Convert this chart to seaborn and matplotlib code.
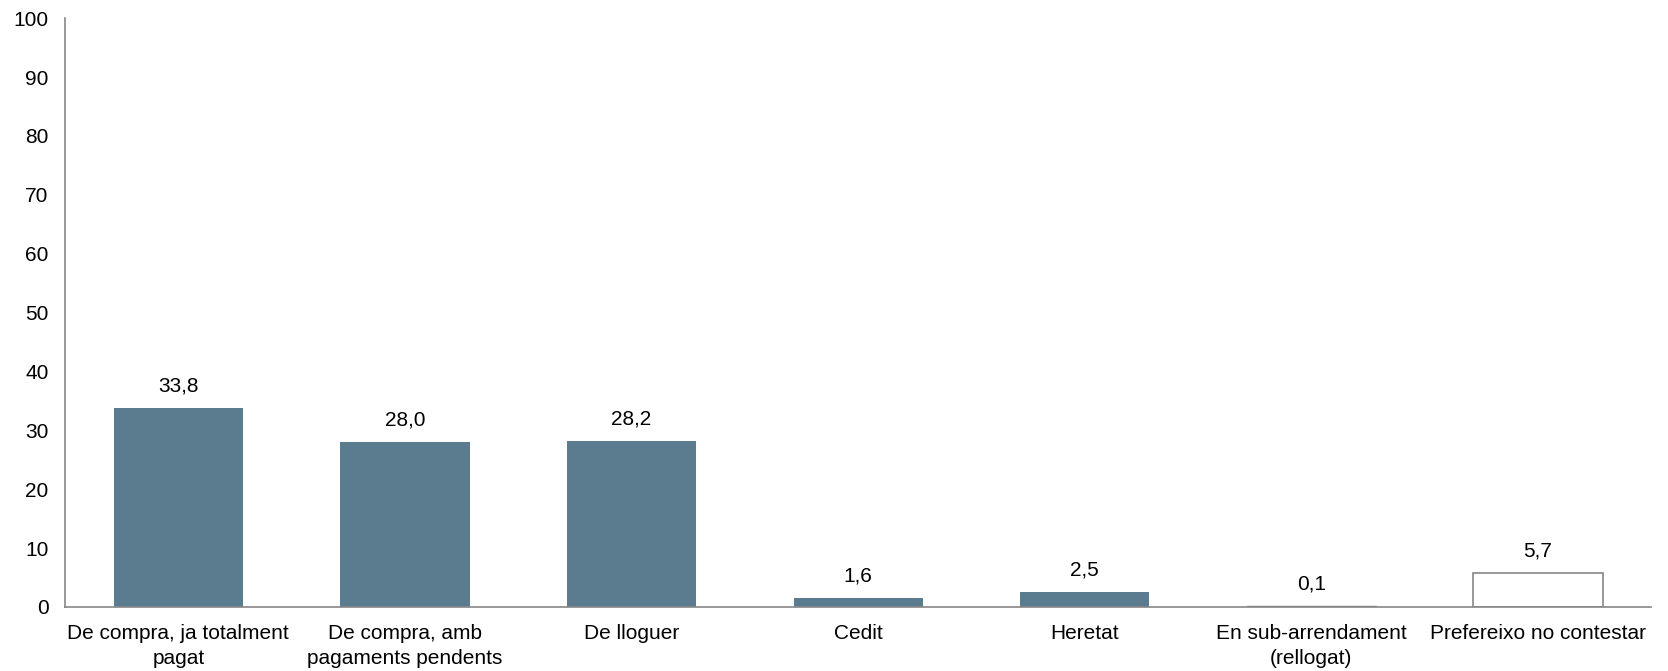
import matplotlib
matplotlib.use("Agg")
import matplotlib.pyplot as plt
import seaborn as sns
import numpy as np
import pandas as pd

categories = ["De compra, ja totalment\npagat", "De compra, amb\npagaments pendents", "De lloguer",
              "Cedit", "Heretat", "En sub-arrendament\n(rellogat)", "Prefereixo no contestar"]
values = [33.8, 28.0, 28.2, 1.6, 2.5, 0.1, 5.7]
labels = ["33,8", "28,0", "28,2", "1,6", "2,5", "0,1", "5,7"]
yticks = [0, 10, 20, 30, 40, 50, 60, 70, 80, 90, 100]

sns.set_theme(style="white")
plt.rcParams['font.family'] = ['Liberation Sans', 'DejaVu Sans']

bar_color = "#5B7B8E"
axis_color = "#868686"
fs = 15

fig = plt.figure(figsize=(16.68, 6.71), dpi=100)
ax = fig.add_axes([0.039, 0.0954, 0.951, 0.8776])

df = pd.DataFrame({"cat": categories, "val": values})
sns.barplot(data=df, x="cat", y="val", color=bar_color, saturation=1, width=0.57, ax=ax)

for i, p in enumerate(ax.patches):
    if i == len(values) - 1:
        p.set_facecolor("white")
        p.set_edgecolor(axis_color)
        p.set_linewidth(1.2)
    elif i == 5:
        p.set_edgecolor("#7F7F7F")
        p.set_linewidth(1.0)
    else:
        p.set_edgecolor("none")

for i, (v, t) in enumerate(zip(values, labels)):
    ax.annotate(t, (i, v), xytext=(0, 9), textcoords="offset points",
                ha="center", va="bottom", fontsize=fs, color="black")

ax.set_xlim(-0.5, len(values) - 0.5)
ax.set_ylim(0, 100)
ax.set_yticks(yticks)
ax.set_yticklabels([str(t) for t in yticks], fontsize=fs, color="black")
ax.set_xticks(range(len(values)))
ax.set_xticklabels(categories, fontsize=fs, color="black", linespacing=1.4)
ax.set_xticks(np.arange(-0.5, len(values)), minor=True)
ax.tick_params(axis="x", which="major", length=0, pad=12)
ax.tick_params(axis="x", which="minor", length=6, width=1.2, color=axis_color, direction="out")
ax.tick_params(axis="y", which="major", length=6, width=1.2, color=axis_color, direction="out", pad=6)
ax.set_xlabel("")
ax.set_ylabel("")
for s in ["top", "right"]:
    ax.spines[s].set_visible(False)
for s in ["left", "bottom"]:
    ax.spines[s].set_color(axis_color)
    ax.spines[s].set_linewidth(1.2)
ax.grid(False)

fig.savefig("out.png", dpi=100)
